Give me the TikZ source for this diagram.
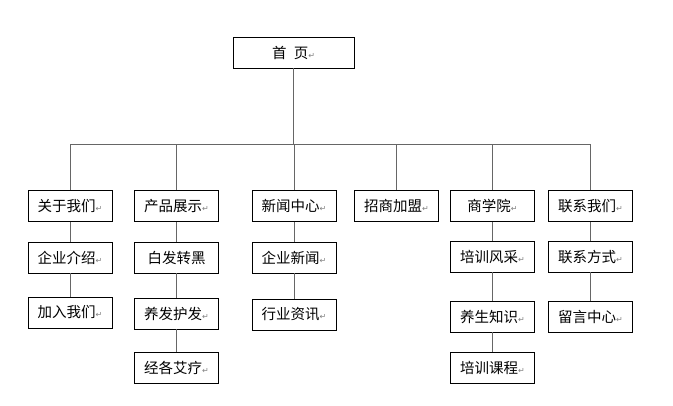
\documentclass[tikz,border=0pt]{standalone}
\usepackage{fontspec}
\setmainfont{Noto Sans CJK SC}
\newfontfamily\markfont{DejaVu Sans}
\usepackage{color}
\newcommand{\pmark}{{\markfont\fontsize{8}{9}\selectfont\color{gray}↵}}

\tikzset{
	page/.style={draw,black,line width=0.9pt,minimum width=84pt,minimum height=31pt,inner sep=0pt,font=\fontsize{14.5}{16}\selectfont},
	link/.style={draw,black!60,line width=1pt}
}

\begin{document}
\begin{tikzpicture}[x=1pt,y=-1pt]
		\useasboundingbox (0,0) rectangle (673,405);
		\node[page,minimum width=121pt] (home) at (293.5,52.5) {首\hspace{0.5em}页\pmark};
		\coordinate (bus) at (0,144);
		% first level
		\node[page] (about) at (70,206) {关于我们\pmark};
		\node[page] (product) at (176.5,206) {产品展示\pmark};
		\node[page] (news) at (294,206) {新闻中心\pmark};
		\node[page] (join) at (396.5,206) {招商加盟\pmark};
		\node[page] (school) at (492.5,206) {商学院\pmark};
		\node[page] (contact) at (590.5,206) {联系我们\pmark};
		% second level
		\node[page] (intro) at (70,257.5) {企业介绍\pmark};
		\node[page] (joinus) at (70,312.5) {加入我们\pmark};
		\node[page] (hair) at (176.5,257.5) {白发转黑};
		\node[page] (care) at (176.5,313.5) {养发护发\pmark};
		\node[page] (therapy) at (176.5,367.5) {经各艾疗\pmark};
		\node[page] (company) at (294,257.5) {企业新闻\pmark};
		\node[page] (industry) at (294,314.5) {行业资讯\pmark};
		\node[page] (style) at (492.5,256.5) {培训风采\pmark};
		\node[page] (health) at (492.5,316.5) {养生知识\pmark};
		\node[page] (course) at (492.5,367.5) {培训课程\pmark};
		\node[page] (way) at (590.5,256.5) {联系方式\pmark};
		\node[page] (message) at (590.5,316.5) {留言中心\pmark};
		% connectors
		\draw[link] (home.south) -- (home.south |- bus);
		\draw[link] (about.north |- bus) -- (contact.north |- bus);
		\draw[link] (about.north |- bus) -- (about.north);
		\draw[link] (product.north |- bus) -- (product.north);
		\draw[link] (news.north |- bus) -- (news.north);
		\draw[link] (join.north |- bus) -- (join.north);
		\draw[link] (school.north |- bus) -- (school.north);
		\draw[link] (contact.north |- bus) -- (contact.north);
		\draw[link] (about) -- (intro) -- (joinus);
		\draw[link] (product) -- (hair) -- (care) -- (therapy);
		\draw[link] (news) -- (company) -- (industry);
		\draw[link] (school) -- (style) -- (health) -- (course);
		\draw[link] (contact) -- (way) -- (message);
	\end{tikzpicture}
\end{document}
